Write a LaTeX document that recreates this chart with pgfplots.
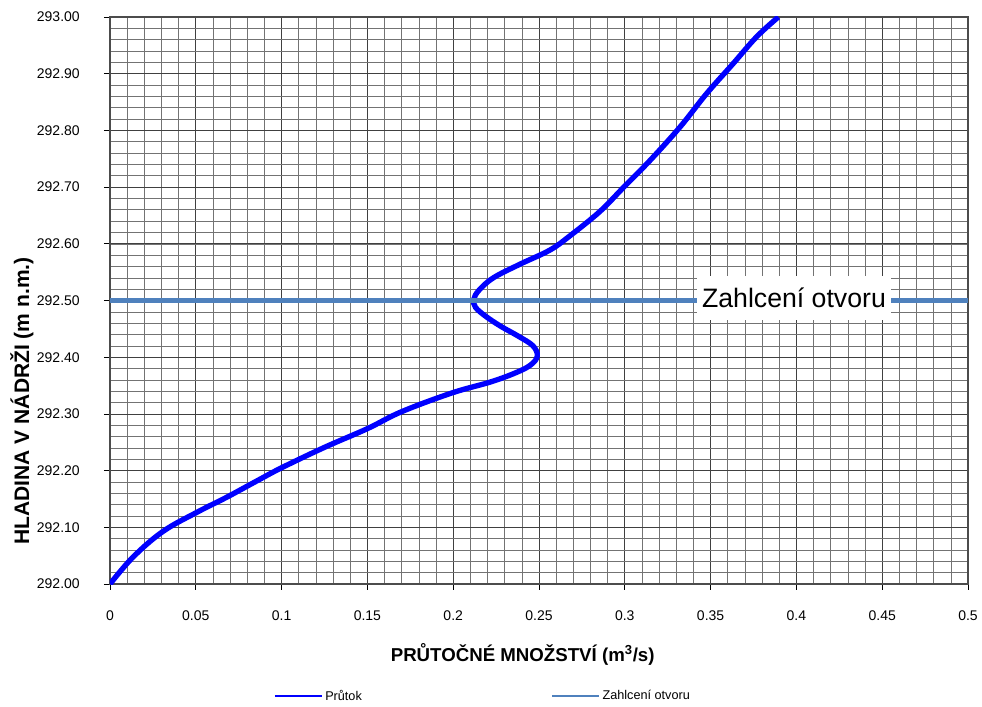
\documentclass[border=0pt]{standalone}
\usepackage{fontspec}
\setmainfont{Liberation Sans}
\usepackage{pgfplots}
\pgfplotsset{compat=1.18}

\definecolor{prutok}{RGB}{0,0,255}
\definecolor{zahlceni}{RGB}{79,129,189}

\begin{document}
\begin{tikzpicture}
\useasboundingbox (-82.5pt,-92.25pt) rectangle (654pt,438pt);
\begin{axis}[
    scale only axis,
    width=643.5pt, height=425.25pt,
    xmin=0, xmax=0.5, ymin=292, ymax=293,
    clip mode=individual,
    xtick={0,0.05,...,0.5},
    ytick={292,292.1,...,293.01},
    minor xtick={0.01,0.02,0.03,0.04,0.06,0.07,0.08,0.09,0.11,0.12,0.13,0.14,
        0.16,0.17,0.18,0.19,0.21,0.22,0.23,0.24,0.26,0.27,0.28,0.29,
        0.31,0.32,0.33,0.34,0.36,0.37,0.38,0.39,0.41,0.42,0.43,0.44,
        0.46,0.47,0.48,0.49},
    minor ytick={292,292.02,...,293.01},
    xtick pos=left, ytick pos=left,
    tick align=outside,
    major tick length=4.5pt,
    minor tick length=0pt,
    tick style={black, line width=0.6pt},
    grid=both,
    major grid style={black!75, line width=0.6pt},
    minor grid style={black!55, line width=0.45pt},
    axis line style={black!70, line width=0.8pt},
    scaled x ticks=false, scaled y ticks=false,
    /pgf/number format/assume math mode=true,
    xticklabel style={/pgf/number format/fixed, /pgf/number format/precision=2, yshift=-15pt},
    yticklabel style={/pgf/number format/fixed, /pgf/number format/fixed zerofill,
        /pgf/number format/precision=2, /pgf/number format/1000 sep={}, xshift=-18pt},
    ticklabel style={font=\fontsize{10.5}{12}\selectfont, inner sep=0pt},
    legend columns=2,
    legend style={at={(axis description cs:0.435,-0.198)}, anchor=center,
        draw=none, fill=none, font=\fontsize{9.5}{11}\selectfont,
        /tikz/every even column/.append style={column sep=140pt}},
    legend image code/.code={\draw[#1, line width=1.5pt] (0pt,0pt) -- (35pt,0pt);},
]
\addplot[prutok, line width=4pt, smooth, tension=0.6] coordinates {
(0,292.000) (0.0136,292.048) (0.031,292.093) (0.051,292.127) (0.068,292.153)
(0.0857,292.182) (0.100,292.205) (0.125,292.241) (0.150,292.274) (0.170,292.304)
(0.1993,292.337) (0.2214,292.356) (0.236,292.372) (0.2450,292.386)
(0.2490,292.402) (0.2465,292.420) (0.2380,292.437) (0.2280,292.454)
(0.2190,292.472) (0.2130,292.488) (0.2120,292.502) (0.2150,292.518)
(0.2234,292.540) (0.2389,292.564) (0.2564,292.589) (0.268,292.614)
(0.2855,292.657) (0.2991,292.699) (0.3147,292.747) (0.3322,292.806) (0.3477,292.865)
(0.3632,292.918) (0.3768,292.965) (0.3895,293.000)
};
\addlegendentry{Průtok}
\addplot[zahlceni, line width=4pt] coordinates {(0,292.5) (0.5,292.5)};
\addlegendentry{Zahlcení otvoru}
\node[fill=white, inner xsep=4pt, inner ysep=9pt, font=\fontsize{20}{24}\selectfont]
    at (axis cs:0.3986,292.505) {Zahlcení otvoru};
\node[font=\bfseries\fontsize{14}{16}\selectfont]
    at (axis description cs:0.481,-0.125) {PRŮTOČNÉ MNOŽSTVÍ (m\textsuperscript{3}/s)};
\node[font=\bfseries\fontsize{15.75}{18}\selectfont, rotate=90]
    at (axis description cs:-0.1026,0.323) {HLADINA V NÁDRŽI (m n.m.)};
\end{axis}
\end{tikzpicture}
\end{document}
